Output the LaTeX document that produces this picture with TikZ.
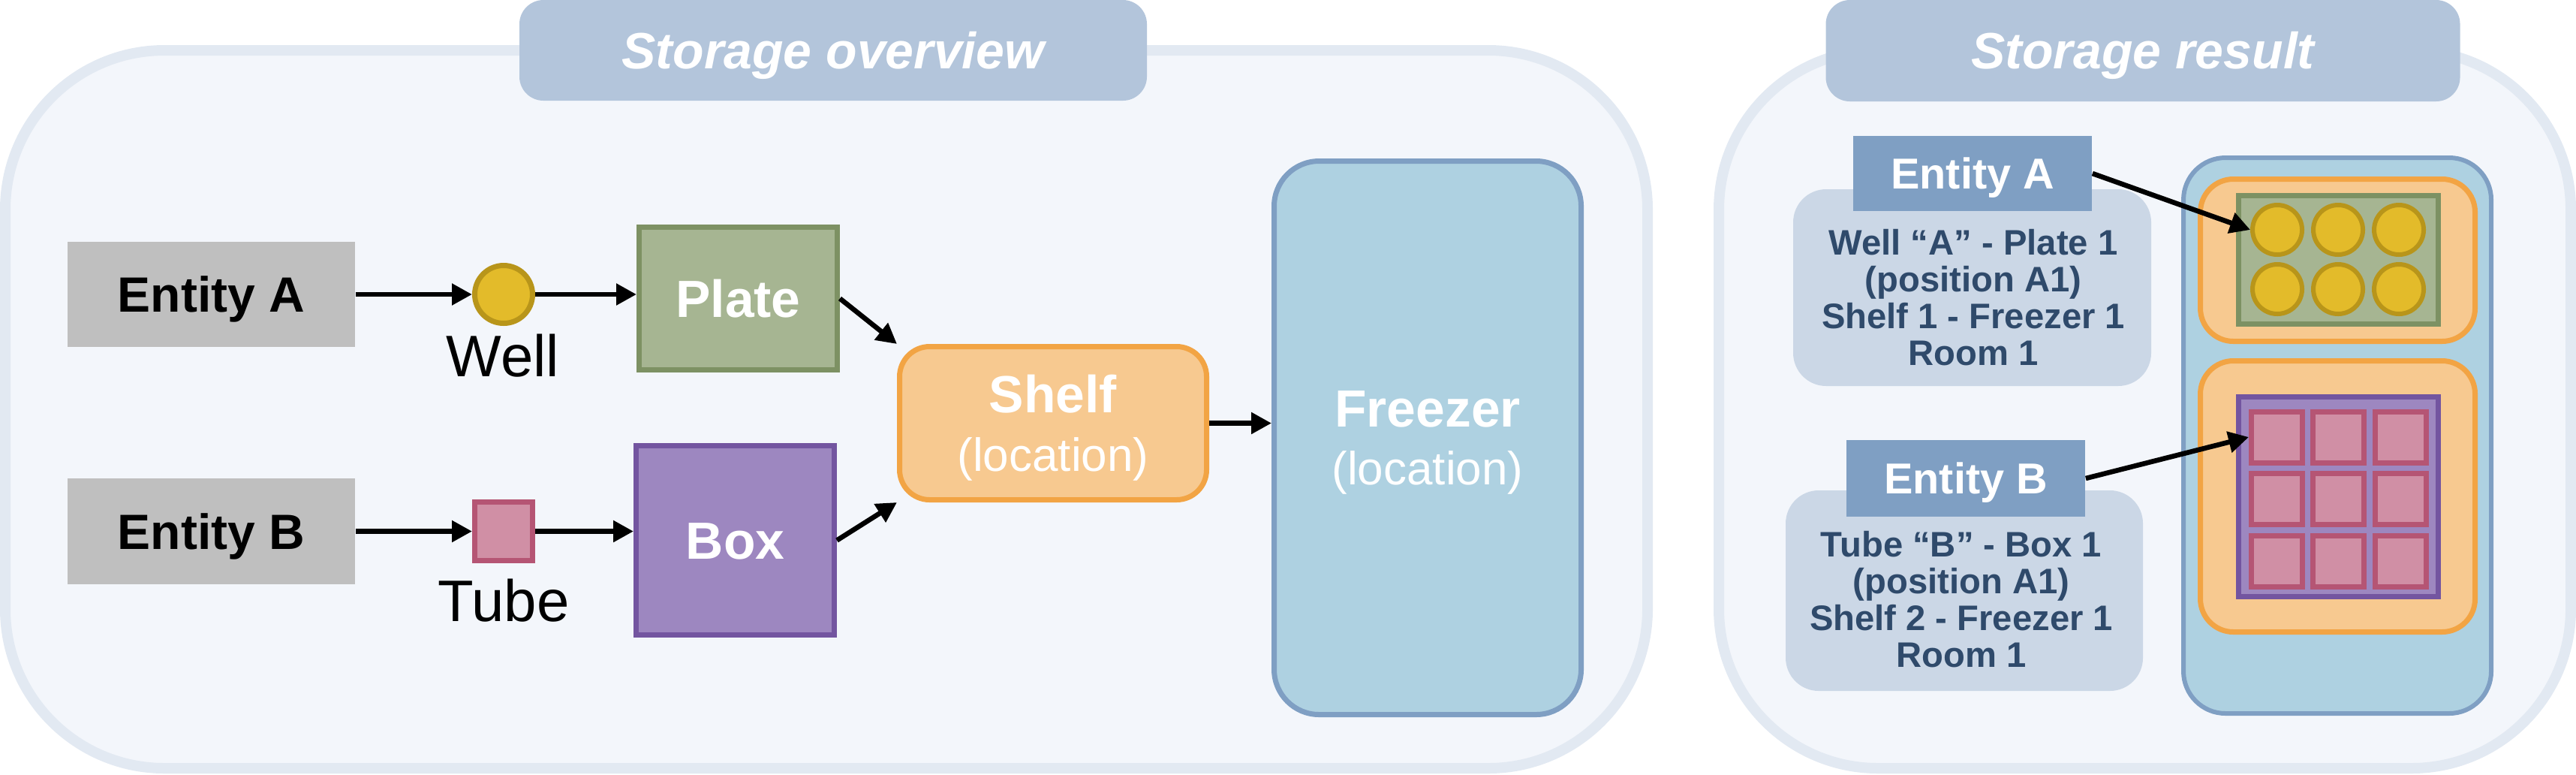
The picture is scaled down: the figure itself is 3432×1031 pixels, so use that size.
\documentclass[tikz,border=0pt]{standalone}
\usepackage{fontspec}
\setmainfont{Liberation Sans}
\usetikzlibrary{arrows.meta}
\definecolor{contfill}{HTML}{F3F6FB}
\definecolor{contline}{HTML}{E2E9F2}
\definecolor{titlefill}{HTML}{B3C5DB}
\definecolor{entgray}{HTML}{BFBFBF}
\definecolor{wellfill}{HTML}{E3BB2A}
\definecolor{wellline}{HTML}{B8951A}
\definecolor{platefill}{HTML}{A6B592}
\definecolor{plateline}{HTML}{7D9163}
\definecolor{tubefill}{HTML}{D08FA5}
\definecolor{tubeline}{HTML}{B55574}
\definecolor{boxfill}{HTML}{9D87C0}
\definecolor{boxline}{HTML}{7355A0}
\definecolor{shelffill}{HTML}{F7C990}
\definecolor{shelfline}{HTML}{F2A444}
\definecolor{frfill}{HTML}{AED1E1}
\definecolor{frline}{HTML}{7F9FC3}
\definecolor{entblue}{HTML}{7F9FC3}
\definecolor{infofill}{HTML}{CBD7E6}
\definecolor{infotext}{HTML}{2F4A6B}
\tikzset{
  container/.style={draw=contline, fill=contfill, line width=3.5pt, rounded corners=53pt, inner sep=0pt},
  titlebox/.style={fill=titlefill, rounded corners=8pt, inner sep=0pt, text=white,
     font=\fontsize{17}{20}\selectfont\bfseries\itshape, text height=12.2pt, text depth=0pt},
  entity/.style={fill=entgray, inner sep=0pt, minimum width=95.75pt, minimum height=35pt,
     font=\fontsize{16.5}{19}\selectfont\bfseries, text height=11.8pt, text depth=0pt},
  bigbox/.style={line width=1.75pt, inner sep=0pt, text=white,
     font=\fontsize{17.4}{20}\selectfont\bfseries, text height=12.5pt, text depth=0pt},
  wellc/.style={circle, draw=wellline, fill=wellfill, line width=1.75pt, inner sep=0pt, minimum size=19.25pt},
  tubec/.style={rectangle, draw=tubeline, fill=tubefill, line width=1.75pt, inner sep=0pt},
  smalllbl/.style={font=\fontsize{19.5}{22}\selectfont, anchor=base, inner sep=0pt},
  mainlbl/.style={font=\fontsize{17.4}{20}\selectfont\bfseries, text=white, anchor=base, inner sep=0pt},
  loclbl/.style={font=\fontsize{15.5}{18}\selectfont, text=white, anchor=base, inner sep=0pt},
  conn/.style={line width=1.65pt, -{Triangle[length=6.75pt,width=6.9pt]}},
  rent/.style={fill=entblue, inner sep=0pt, minimum width=79.5pt, text=white,
     font=\fontsize{14.4}{17}\selectfont\bfseries, text height=10.3pt, text depth=0pt},
  infobox/.style={fill=infofill, rounded corners=11pt, inner sep=0pt},
  infotxt/.style={align=center, text=infotext, inner sep=0pt,
     font=\fontsize{11.8}{12.25}\selectfont\bfseries},
  wellsm/.style={circle, draw=wellline, fill=wellfill, line width=1.5pt, inner sep=0pt, minimum size=16.5pt},
  tubesm/.style={rectangle, draw=tubeline, fill=tubefill, line width=1.75pt, inner sep=0pt, minimum size=17pt},
}
\begin{document}
\begin{tikzpicture}[x=0.25pt,y=-0.25pt]
\useasboundingbox (0,0) rectangle (3432,1031);

% containers
\node[container, minimum width=547pt, minimum height=239pt] (LC) at (1101,545) {};
\node[container, minimum width=283.75pt, minimum height=239pt] (RC) at (2857.5,545) {};
\node[titlebox, minimum width=209pt, minimum height=33.5pt] (T1) at (1110,67) {Storage overview};
\node[titlebox, minimum width=211.25pt, minimum height=33.75pt] (T2) at (2855,67.5) {Storage result};

% left diagram
\node[entity] (EA) at (281.5,392) {Entity A};
\node[entity, minimum height=35.25pt] (EB) at (281.5,707.5) {Entity B};
\node[wellc] (Well) at (671,392) {};
\node[smalllbl] (WellL) at (670,501) {Well};
\node[tubec, minimum width=19.25pt, minimum height=19.5pt] (Tube) at (671,707.5) {};
\node[smalllbl] (TubeL) at (671,827) {Tube};
\node[bigbox, draw=plateline, fill=platefill, minimum width=66pt, minimum height=47.5pt] (Plate) at (983.5,397.5) {Plate};
\node[bigbox, draw=boxline, fill=boxfill, minimum width=66pt, minimum height=63pt] (Box) at (979.5,719.5) {Box};
\node[draw=shelfline, fill=shelffill, line width=1.75pt, rounded corners=10pt, inner sep=0pt,
      minimum width=102.25pt, minimum height=51pt] (Shelf) at (1403,563.5) {};
\node[mainlbl] (ShelfL) at (1403,549) {Shelf};
\node[loclbl] (ShelfLoc) at (1403,627) {(location)};
\node[draw=frline, fill=frfill, line width=1.75pt, rounded corners=15pt, inner sep=0pt,
      minimum width=102.25pt, minimum height=184.25pt] (Freezer) at (1902,583) {};
\node[mainlbl] (FreezerL) at (1902,568) {Freezer};
\node[loclbl] (FreezerLoc) at (1902,645) {(location)};

\draw[conn] (EA) -- (Well);
\draw[conn] (Well.east) -- (Well.east -| Plate.west);
\draw[conn] (EB) -- (Tube);
\draw[conn] (Tube.east) -- (Tube.east -| Box.west);
\draw[conn] (Plate.east) -- (Shelf.north west);
\draw[conn] (Box.east) -- (Shelf.south west);
\draw[conn] (Shelf.east) -- (Shelf.east -| Freezer.west);

% right diagram
\node[draw=frline, fill=frfill, line width=1.5pt, rounded corners=14pt, inner sep=0pt,
      minimum width=102.5pt, minimum height=185pt] (FR) at (3114,580) {};
\node[draw=shelfline, fill=shelffill, line width=1.75pt, rounded corners=11pt, inner sep=0pt,
      minimum width=91.5pt, minimum height=54pt] (S1) at (3114.5,346.5) {};
\node[draw=shelfline, fill=shelffill, line width=1.75pt, rounded corners=11pt, inner sep=0pt,
      minimum width=91.5pt, minimum height=90.25pt] (S2) at (3114.5,661) {};
\node[draw=plateline, fill=platefill, line width=1.75pt, inner sep=0pt,
      minimum width=66.5pt, minimum height=42.75pt] (PG) at (3115.5,346) {};
\node[draw=boxline, fill=boxfill, line width=1.75pt, inner sep=0pt,
      minimum width=66.5pt, minimum height=66.5pt] (BG) at (3115.5,661.5) {};
\foreach \c/\xx in {1/3034,2/3115,3/3196}
  \foreach \r/\yy in {1/306,2/385}
    \node[wellsm] (W\r\c) at (\xx,\yy) {};
\foreach \c/\xx in {1/3033.5,2/3115.5,3/3198}
  \foreach \r/\yy in {1/582,2/664.5,3/747.5}
    \node[tubesm] (T\r\c) at (\xx,\yy) {};

\node[infobox, minimum width=119.25pt, minimum height=65.5pt] (IA) at (2627.5,383) {};
\node[infobox, minimum width=119pt, minimum height=66.75pt] (IB) at (2617,786.5) {};
\node[rent, minimum height=25pt] (RA) at (2628,231) {Entity A};
\node[rent, minimum height=25.5pt] (RB) at (2619,637) {Entity B};
\node[infotxt] (IAt) at (2629,396.5) {Well “A” - Plate 1\\(position A1)\\Shelf 1 - Freezer 1\\Room 1};
\node[infotxt] (IBt) at (2613,798) {Tube “B” - Box 1\\(position A1)\\Shelf 2 - Freezer 1\\Room 1};

\draw[conn] (RA.east) -- (W11.west);
\draw[conn] (RB.east) -- (T11.west);
\end{tikzpicture}
\end{document}
